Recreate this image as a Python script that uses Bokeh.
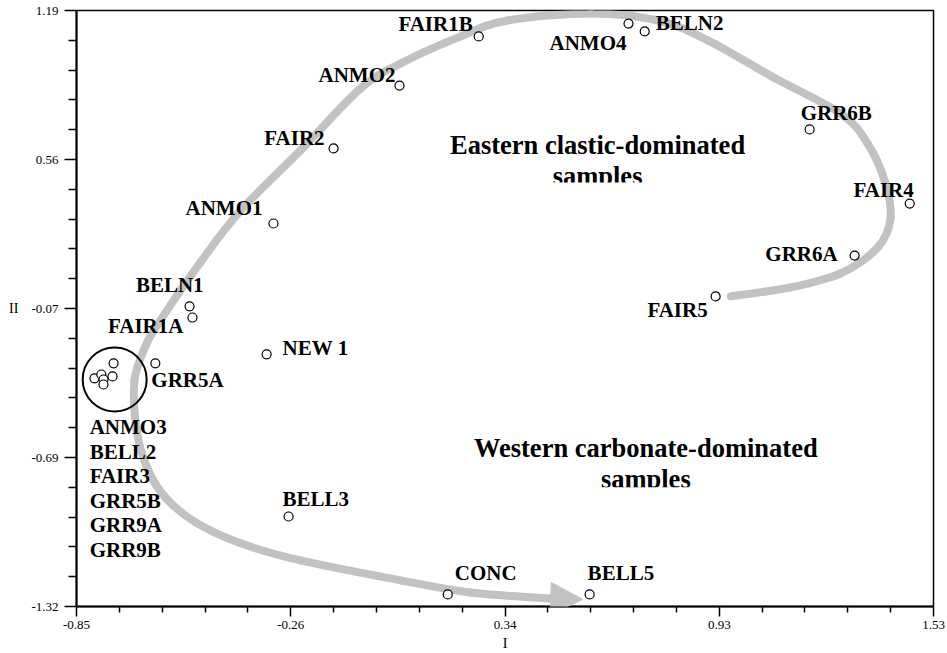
import numpy as np
from bokeh.plotting import figure
from bokeh.models import (FixedTicker, Range1d, Arrow, NormalHead, BoxAnnotation,
                          ColumnDataSource)
from bokeh.core.properties import value
from bokeh.embed import file_html
from bokeh.resources import INLINE

# ---------------- data ----------------
samples = ["FAIR1B", "ANMO4", "BELN2", "ANMO2", "FAIR2", "GRR6B", "FAIR4", "ANMO1",
           "GRR6A", "FAIR5", "BELN1", "FAIR1A", "NEW 1", "GRR5A", "BELL3", "CONC", "BELL5"]
pc1 = [0.267, 0.683, 0.728, 0.047, -0.136, 1.186, 1.464, -0.303,
       1.311, 0.925, -0.536, -0.528, -0.322, -0.631, -0.261, 0.181, 0.575]
pc2 = [1.081, 1.135, 1.102, 0.874, 0.609, 0.689, 0.377, 0.293,
       0.158, -0.014, -0.056, -0.103, -0.258, -0.296, -0.941, -1.269, -1.269]

cluster_samples = ["ANMO3", "BELL2", "FAIR3", "GRR5B", "GRR9A", "GRR9B"]
cluster_pc1 = [-0.747, -0.800, -0.781, -0.775, -0.775, -0.750]
cluster_pc2 = [-0.296, -0.359, -0.343, -0.364, -0.385, -0.351]
cluster_ring_x = [-0.744]
cluster_ring_y = [-0.364]

x_ticks = [-0.85, -0.255, 0.34, 0.935, 1.53]
x_tick_labels = ["-0.85", "-0.26", "0.34", "0.93", "1.53"]
y_ticks = [-1.32, -0.6925, -0.065, 0.5625, 1.19]
y_tick_labels = ["-1.32", "-0.69", "-0.07", "0.56", "1.19"]

# guide arrow path (trend from eastern to western samples)
trend_x = [0.967, 1.133, 1.272, 1.375, 1.411, 1.394, 1.347, 1.272, 1.086, 0.903,
           0.764, 0.578, 0.347, 0.217, 0.050, -0.061, -0.228, -0.394, -0.506, -0.617,
           -0.658, -0.689, -0.683, -0.653, -0.603, -0.519, -0.394, -0.228, 0.050, 0.244, 0.461]
trend_y = [-0.014, 0.024, 0.083, 0.192, 0.318, 0.474, 0.630, 0.756, 0.908, 1.064,
           1.148, 1.177, 1.148, 1.081, 0.967, 0.862, 0.601, 0.348, 0.129, -0.115,
           -0.221, -0.368, -0.578, -0.738, -0.861, -0.966, -1.054, -1.126, -1.210, -1.261, -1.286]
trend_tip = (0.556, -1.290)

region_labels = [["Eastern clastic-dominated", "samples"],
                 ["Western carbonate-dominated", "samples"]]
region_anchor_x = [0.597, 0.731]
region_anchor_y = [0.622, -0.654]

# ---------------- layout of labels (align, dx px, dy px) ----------------
label_layout = {
    "FAIR1B": ("right", -6, -12), "ANMO4": ("right", -2, 19), "BELN2": ("left", 11, -8),
    "ANMO2": ("right", -4, -11), "FAIR2": ("right", -9, -10), "GRR6B": ("left", -9, -16),
    "FAIR4": ("right", 4, -14), "ANMO1": ("right", -11, -15), "GRR6A": ("right", -17, -2),
    "FAIR5": ("right", -8, 14), "BELN1": ("right", 14, -21), "FAIR1A": ("right", -9, 8),
    "NEW 1": ("left", 16, -6), "GRR5A": ("left", -4, 17), "BELL3": ("left", -6, -18),
    "CONC": ("left", 7, -21), "BELL5": ("left", -2, -21),
}

FONT = value("Liberation Serif")
GRAY = "#c2c2c2"

p = figure(width=947, height=653, x_range=Range1d(-0.85, 1.53), y_range=Range1d(-1.32, 1.19),
           output_backend="svg", toolbar_location=None,
           min_border_left=76, min_border_right=14, min_border_top=10, min_border_bottom=47)
p.xgrid.visible = False
p.ygrid.visible = False
p.outline_line_color = "black"
p.outline_line_width = 1.5
p.background_fill_color = "white"
p.border_fill_color = "white"

def minor(ticks):
    out = []
    for a, b in zip(ticks[:-1], ticks[1:]):
        out += list(np.linspace(a, b, 6)[1:-1])
    return out

p.xaxis.ticker = FixedTicker(ticks=x_ticks, minor_ticks=minor(x_ticks))
p.yaxis.ticker = FixedTicker(ticks=y_ticks, minor_ticks=minor(y_ticks))
p.xaxis.major_label_overrides = {t: l for t, l in zip(x_ticks, x_tick_labels)}
p.yaxis.major_label_overrides = {t: l for t, l in zip(y_ticks, y_tick_labels)}

for ax in (p.xaxis[0], p.yaxis[0]):
    ax.axis_line_width = 2
    ax.axis_line_color = "black"
    ax.major_tick_line_color = "black"
    ax.minor_tick_line_color = "black"
    ax.major_tick_line_width = 1.5
    ax.minor_tick_line_width = 1.5
    ax.major_tick_in = 0
    ax.minor_tick_in = 0
    ax.major_label_text_font = "Liberation Serif"
    ax.major_label_text_font_size = "13px"
    ax.major_label_text_color = "black"
    ax.axis_label_text_font = "Liberation Serif"
    ax.axis_label_text_font_size = "14px"
    ax.axis_label_text_font_style = "normal"
    ax.axis_label_text_color = "black"

p.xaxis.axis_label = "I"
p.yaxis.axis_label = "II"
p.yaxis.axis_label_orientation = "horizontal"
p.xaxis.major_tick_out = 10
p.xaxis.minor_tick_out = 6
p.yaxis.major_tick_out = 12
p.yaxis.minor_tick_out = 8
p.xaxis.major_label_standoff = 4
p.yaxis.major_label_standoff = 6
p.xaxis.axis_label_standoff = 4
p.yaxis.axis_label_standoff = 10

# guide curve as chained cubic beziers (Catmull-Rom control points)
pts = np.column_stack([trend_x, trend_y])
n = len(pts)
bz = dict(x0=[], y0=[], x1=[], y1=[], cx0=[], cy0=[], cx1=[], cy1=[])
for i in range(n - 1):
    P0 = pts[max(i - 1, 0)]; P1 = pts[i]; P2 = pts[i + 1]; P3 = pts[min(i + 2, n - 1)]
    c0 = P1 + (P2 - P0) / 6.0
    c1 = P2 - (P3 - P1) / 6.0
    bz["x0"].append(P1[0]); bz["y0"].append(P1[1])
    bz["x1"].append(P2[0]); bz["y1"].append(P2[1])
    bz["cx0"].append(c0[0]); bz["cy0"].append(c0[1])
    bz["cx1"].append(c1[0]); bz["cy1"].append(c1[1])
p.bezier(source=ColumnDataSource(bz), x0="x0", y0="y0", x1="x1", y1="y1",
         cx0="cx0", cy0="cy0", cx1="cx1", cy1="cy1",
         line_color=GRAY, line_width=8, line_cap="round")

p.add_layout(Arrow(end=NormalHead(size=32, fill_color=GRAY, line_color=GRAY, line_width=1),
                   x_start=trend_x[-1], y_start=trend_y[-1],
                   x_end=trend_tip[0], y_end=trend_tip[1],
                   line_color=GRAY, line_width=8))

# cluster ring
p.scatter(x=cluster_ring_x, y=cluster_ring_y, size=64, marker="circle",
          fill_alpha=0, line_color="black", line_width=2)

# points
p.scatter(x=pc1 + cluster_pc1, y=pc2 + cluster_pc2, size=9, marker="circle",
          fill_color="white", line_color="black", line_width=1.2)

LABEL_SIZE = "21px"

# point labels
for align in ("left", "right"):
    names = [s for s in samples if label_layout[s][0] == align]
    src = ColumnDataSource(dict(
        x=[pc1[samples.index(s)] for s in names],
        y=[pc2[samples.index(s)] for s in names],
        t=names,
        dx=[label_layout[s][1] for s in names],
        dy=[label_layout[s][2] for s in names]))
    p.text(x="x", y="y", text="t", x_offset="dx", y_offset="dy", source=src,
           text_font=FONT, text_font_style="bold", text_font_size=LABEL_SIZE,
           text_align=align, text_baseline="middle", text_color="black")

# stacked cluster labels
p.text(x=cluster_ring_x * 6, y=cluster_ring_y * 6, text=cluster_samples,
       x_offset=[-25] * 6, y_offset=[48 + 24.5 * i for i in range(6)],
       text_font=FONT, text_font_style="bold", text_font_size=LABEL_SIZE,
       text_align="left", text_baseline="middle", text_color="black")

# region labels
for lines, ax_, ay_ in zip(region_labels, region_anchor_x, region_anchor_y):
    p.text(x=[ax_] * len(lines), y=[ay_] * len(lines), text=lines,
           y_offset=[31 * i for i in range(len(lines))],
           text_font=FONT, text_font_style="bold", text_font_size="26.5px",
           text_align="center", text_baseline="middle", text_color="black")

# clipping of the second text line, as in the original text boxes
p.add_layout(BoxAnnotation(left=0.439, right=0.758, top=0.466, bottom=0.407,
                           fill_color="white", fill_alpha=1, line_alpha=0))
p.add_layout(BoxAnnotation(left=0.592, right=0.883, top=-0.818, bottom=-0.873,
                           fill_color="white", fill_alpha=1, line_alpha=0))

open("out.html", "w").write(file_html(p, INLINE))
